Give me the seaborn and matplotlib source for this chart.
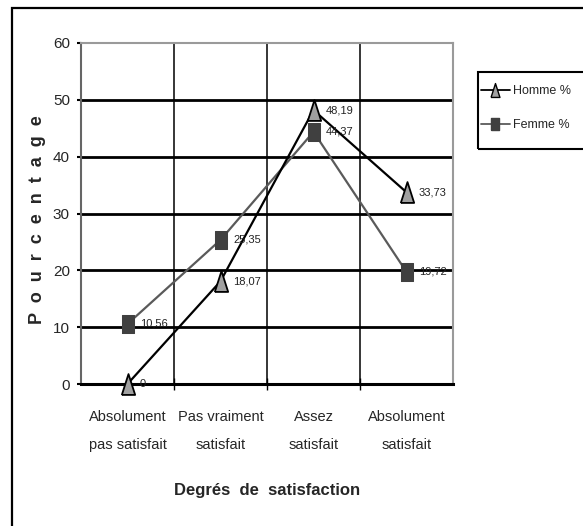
import matplotlib
matplotlib.use("Agg")
import matplotlib.pyplot as plt
import seaborn as sns
import pandas as pd
from matplotlib.patches import Rectangle
from matplotlib.lines import Line2D

categories = ["Absolument\npas satisfait", "Pas vraiment\nsatisfait", "Assez\nsatisfait", "Absolument\nsatisfait"]
homme = [0, 18.07, 48.19, 33.73]
femme = [10.56, 25.35, 44.37, 19.72]
homme_labels = ["0", "18,07", "48,19", "33,73"]
femme_labels = ["10,56", "25,35", "44,37", "19,72"]
yticks = [0, 10, 20, 30, 40, 50, 60]

sns.set_theme(style="white")
plt.rcParams['font.family'] = ['Liberation Sans', 'DejaVu Sans']

W, H = 583, 526
fig = plt.figure(figsize=(W / 100, H / 100), dpi=100)
fig.patch.set_facecolor("white")

def fx(px):
    return px / W

def fy(py):
    return 1 - py / H

# outer frame (runs past right and bottom edges)
fig.patches.append(Rectangle((fx(11.5), fy(560)), fx(700), (560 - 7.5) / H, transform=fig.transFigure,
                             fill=False, edgecolor="black", linewidth=1.6, zorder=0))

L, R, T, B = 81, 453, 43, 384
ax = fig.add_axes([fx(L), fy(B), (R - L) / W, (B - T) / H])
pos = list(range(len(categories)))
df = pd.DataFrame({"pos": pos * 2, "val": homme + femme,
                   "serie": ["Homme %"] * 4 + ["Femme %"] * 4})

tri = [(-0.32, -0.5), (0.32, -0.5), (0.0, 0.5), (-0.32, -0.5)]
sq = [(-0.35, -0.5), (0.35, -0.5), (0.35, 0.5), (-0.35, 0.5), (-0.35, -0.5)]

sns.lineplot(data=df[df.serie == "Homme %"], x="pos", y="val", ax=ax, color="black", lw=1.6,
             marker=tri, markersize=15, markerfacecolor="#a0a0a0", markeredgecolor="black",
             markeredgewidth=1.3, zorder=5, legend=False, clip_on=False)
sns.lineplot(data=df[df.serie == "Femme %"], x="pos", y="val", ax=ax, color="#5a5a5a", lw=1.6,
             marker=sq, markersize=13, markerfacecolor="#404040", markeredgecolor="#404040",
             zorder=4, legend=False, clip_on=False)

for i in pos:
    ax.annotate(homme_labels[i], (i, homme[i]), xytext=(9, 0), textcoords="offset points",
                fontsize=8, va="center", ha="left", color="#222222", zorder=6)
    ax.annotate(femme_labels[i], (i, femme[i]), xytext=(9, 0), textcoords="offset points",
                fontsize=8, va="center", ha="left", color="#222222", zorder=6)

ax.set_xlabel("")
ax.set_ylabel("")
ax.set_xlim(-0.5, 3.5)
ax.set_ylim(0, 60)
ax.set_yticks(yticks)
ax.set_yticklabels([str(v) for v in yticks], fontsize=11)
ax.set_xticks(pos)
ax.set_xticklabels(categories, fontsize=10.5, linespacing=2.2)
ax.set_xticks([0.5, 1.5, 2.5], minor=True)
ax.tick_params(axis="x", which="major", length=0, pad=19)
ax.tick_params(axis="x", which="minor", length=8, direction="inout", width=1, color="black", bottom=True)
ax.tick_params(axis="y", length=3, direction="out", width=1.5, color="black", left=True, pad=5)
for y in yticks[1:-1]:
    ax.axhline(y, color="black", lw=2.0, zorder=1)
for x in [0.5, 1.5, 2.5]:
    ax.axvline(x, color="black", lw=1.1, zorder=1)
ax.spines["left"].set_color("#666666")
ax.spines["left"].set_linewidth(1.5)
ax.spines["bottom"].set_color("black")
ax.spines["bottom"].set_linewidth(2.2)
ax.spines["top"].set_color("#9a9a9a")
ax.spines["top"].set_linewidth(1.5)
ax.spines["right"].set_color("#9a9a9a")
ax.spines["right"].set_linewidth(1.5)

fig.text(fx((L + R) / 2), fy(490), "Degrés  de  satisfaction", fontsize=12, fontweight="bold",
         ha="center", va="center")
fig.text(fx(38), fy((T + B) / 2 + 6), "P  o  u  r  c  e  n  t  a  g  e", fontsize=13,
         fontweight="bold", rotation=90, ha="center", va="center")

# legend box
fig.patches.append(Rectangle((fx(478), fy(149)), fx(200), (149 - 72) / H, transform=fig.transFigure,
                             fill=False, edgecolor="black", linewidth=1.5, zorder=2))
handles = [Line2D([], [], color="black", lw=1.3, marker=tri, markersize=10,
                  markerfacecolor="#a0a0a0", markeredgecolor="black"),
           Line2D([], [], color="#5a5a5a", lw=1.3, marker=sq, markersize=9,
                  markerfacecolor="#404040", markeredgecolor="#404040")]
leg = fig.legend(handles, ["Homme %", "Femme %"], loc="upper left",
                 bbox_to_anchor=(fx(481), fy(85)), fontsize=9, frameon=False,
                 handlelength=2.3, handletextpad=0.3, borderpad=0, labelspacing=1.75,
                 borderaxespad=0)

fig.savefig("out.png", dpi=100, facecolor="white")
